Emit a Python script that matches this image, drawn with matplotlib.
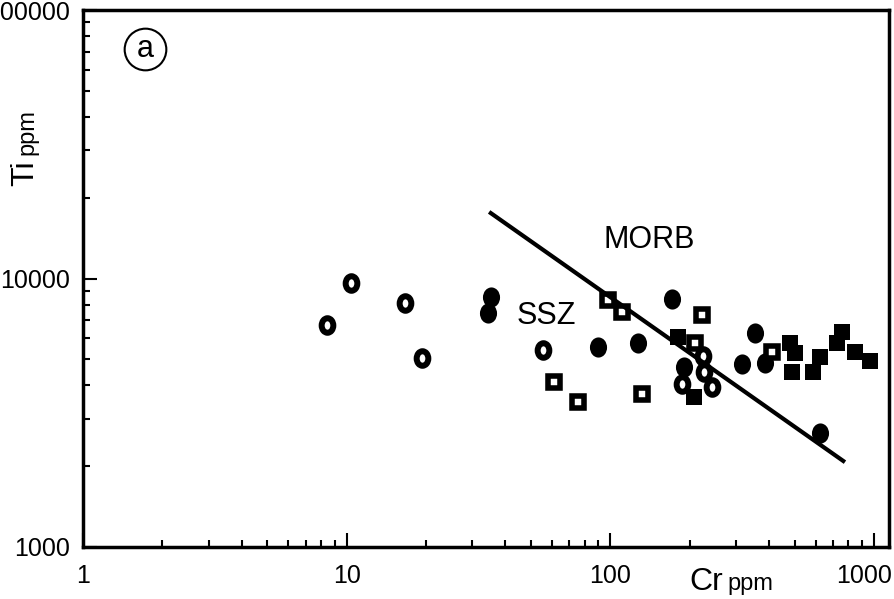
import matplotlib
matplotlib.use('Agg')
import matplotlib.pyplot as plt
from matplotlib import font_manager
from matplotlib.path import Path
from matplotlib.ticker import FixedLocator, LogLocator, NullFormatter
from matplotlib.transforms import ScaledTranslation


# Cr (ppm) / Ti (ppm) for each symbol type
ring_cr = [8.4, 10.4, 16.6, 19.3, 55.5, 225, 227, 187, 243]
ring_ti = [6710, 9620, 8110, 5060, 5420, 5150, 4490, 4050, 3940]

dot_cr = [35.3, 34.4, 89.8, 127, 171, 190, 316, 354, 386, 624]
dot_ti = [8530, 7440, 5560, 5750, 8390, 4680, 4800, 6270, 4850, 2660]

osq_cr = [98.0, 111, 223, 61.1, 75.4, 132, 210, 410]
osq_ti = [8320, 7500, 7310, 4120, 3470, 3710, 5750, 5330]

fsq_cr = [181, 208, 480, 502, 489, 587, 624, 756, 724, 847, 966]
fsq_ti = [6060, 3620, 5750, 5280, 4490, 4490, 5100, 6320, 5750, 5330, 4930]

# MORB / SSZ dividing line
div_cr = [34.7, 776]
div_ti = [17700, 2070]

x_ticks = [1, 10, 100, 1000]
y_ticks = [1000, 10000, 100000]

FONT = 'Liberation Sans'
installed = {f.name for f in font_manager.fontManager.ttflist}
if 'Liberation Sans Narrow' in installed:
    TICK_FONT, TICK_SIZE = 'Liberation Sans Narrow', 20
else:
    TICK_FONT, TICK_SIZE = FONT, 18
W, H = 895, 599


def ellipse(rx):
    c = Path.unit_circle()
    return Path(c.vertices * [rx, 1.0], c.codes)


def fx(px):
    return px / W


def fy(py):
    # pixel row counted from the top -> figure fraction
    return 1 - py / H


fig = plt.figure(figsize=(W / 100, H / 100), dpi=100)
ax = fig.add_axes([fx(83), fy(547), fx(806), 537 / H])
ax.set_xscale('log')
ax.set_yscale('log')
ax.set_xlim(1, 1140)
ax.set_ylim(1000, 100000)

ax.plot(dot_cr, dot_ti, ls='none', marker=ellipse(0.85), ms=14.5,
        mfc='black', mec='black', mew=0, zorder=2)
ax.plot(fsq_cr, fsq_ti, ls='none', marker='s', ms=12,
        mfc='black', mec='black', mew=0, zorder=3)
ax.plot(osq_cr, osq_ti, ls='none', marker='s', ms=8.5,
        mfc='white', mec='black', mew=4, zorder=4)
ax.plot(ring_cr, ring_ti, ls='none', marker=ellipse(0.8), ms=10.5,
        mfc='white', mec='black', mew=4.3, zorder=5)
ax.plot(div_cr, div_ti, color='black', lw=3, solid_capstyle='butt', zorder=6)

fig.text(fx(649), fy(240), 'MORB', fontsize=22, family=FONT,
         ha='center', va='center')
fig.text(fx(546), fy(316), 'SSZ', fontsize=22, family=FONT,
         ha='center', va='center')

# circled panel letter
ax.plot([0.0769], [0.927], transform=ax.transAxes, marker='o', ms=30,
        mfc='none', mec='black', mew=1.5, clip_on=False)
ax.text(0.0769, 0.927, 'a', transform=ax.transAxes, fontsize=22,
        family=FONT, ha='center', va='center')

for s in ax.spines.values():
    s.set_linewidth(2.5)

ax.xaxis.set_major_locator(FixedLocator(x_ticks))
ax.yaxis.set_major_locator(FixedLocator(y_ticks))
ax.set_xticklabels([str(v) for v in x_ticks])
ax.set_yticklabels([str(v) for v in y_ticks])
ax.xaxis.set_minor_locator(LogLocator(base=10, subs=range(2, 10)))
ax.yaxis.set_minor_locator(LogLocator(base=10, subs=range(2, 10)))
ax.xaxis.set_minor_formatter(NullFormatter())
ax.yaxis.set_minor_formatter(NullFormatter())
ax.tick_params(which='both', direction='in', top=False, right=False,
               width=1.5, color='black')
ax.tick_params(which='major', length=10)
ax.tick_params(which='minor', length=5)
ax.tick_params(axis='x', which='major', pad=12)
ax.tick_params(axis='y', which='major', pad=9)
for lab in ax.get_xticklabels() + ax.get_yticklabels():
    lab.set_fontfamily(TICK_FONT)
    lab.set_fontsize(TICK_SIZE)

# the last x label sits a little left of its tick, inside the frame
last = ax.get_xticklabels()[-1]
last.set_transform(last.get_transform()
                   + ScaledTranslation(-0.10, 0, fig.dpi_scale_trans))

# axis titles: element name large, unit small
fig.text(fx(723), fy(590), 'Cr', fontsize=23, family=FONT,
         ha='right', va='baseline')
fig.text(fx(727), fy(590), 'ppm', fontsize=17, family=FONT,
         ha='left', va='baseline')
fig.text(fx(33), fy(160), 'Ti', fontsize=23, family=FONT, rotation=90,
         rotation_mode='anchor', ha='right', va='baseline')
fig.text(fx(33), fy(155), 'ppm', fontsize=17, family=FONT, rotation=90,
         rotation_mode='anchor', ha='left', va='baseline')

fig.savefig('out.png', dpi=100)
